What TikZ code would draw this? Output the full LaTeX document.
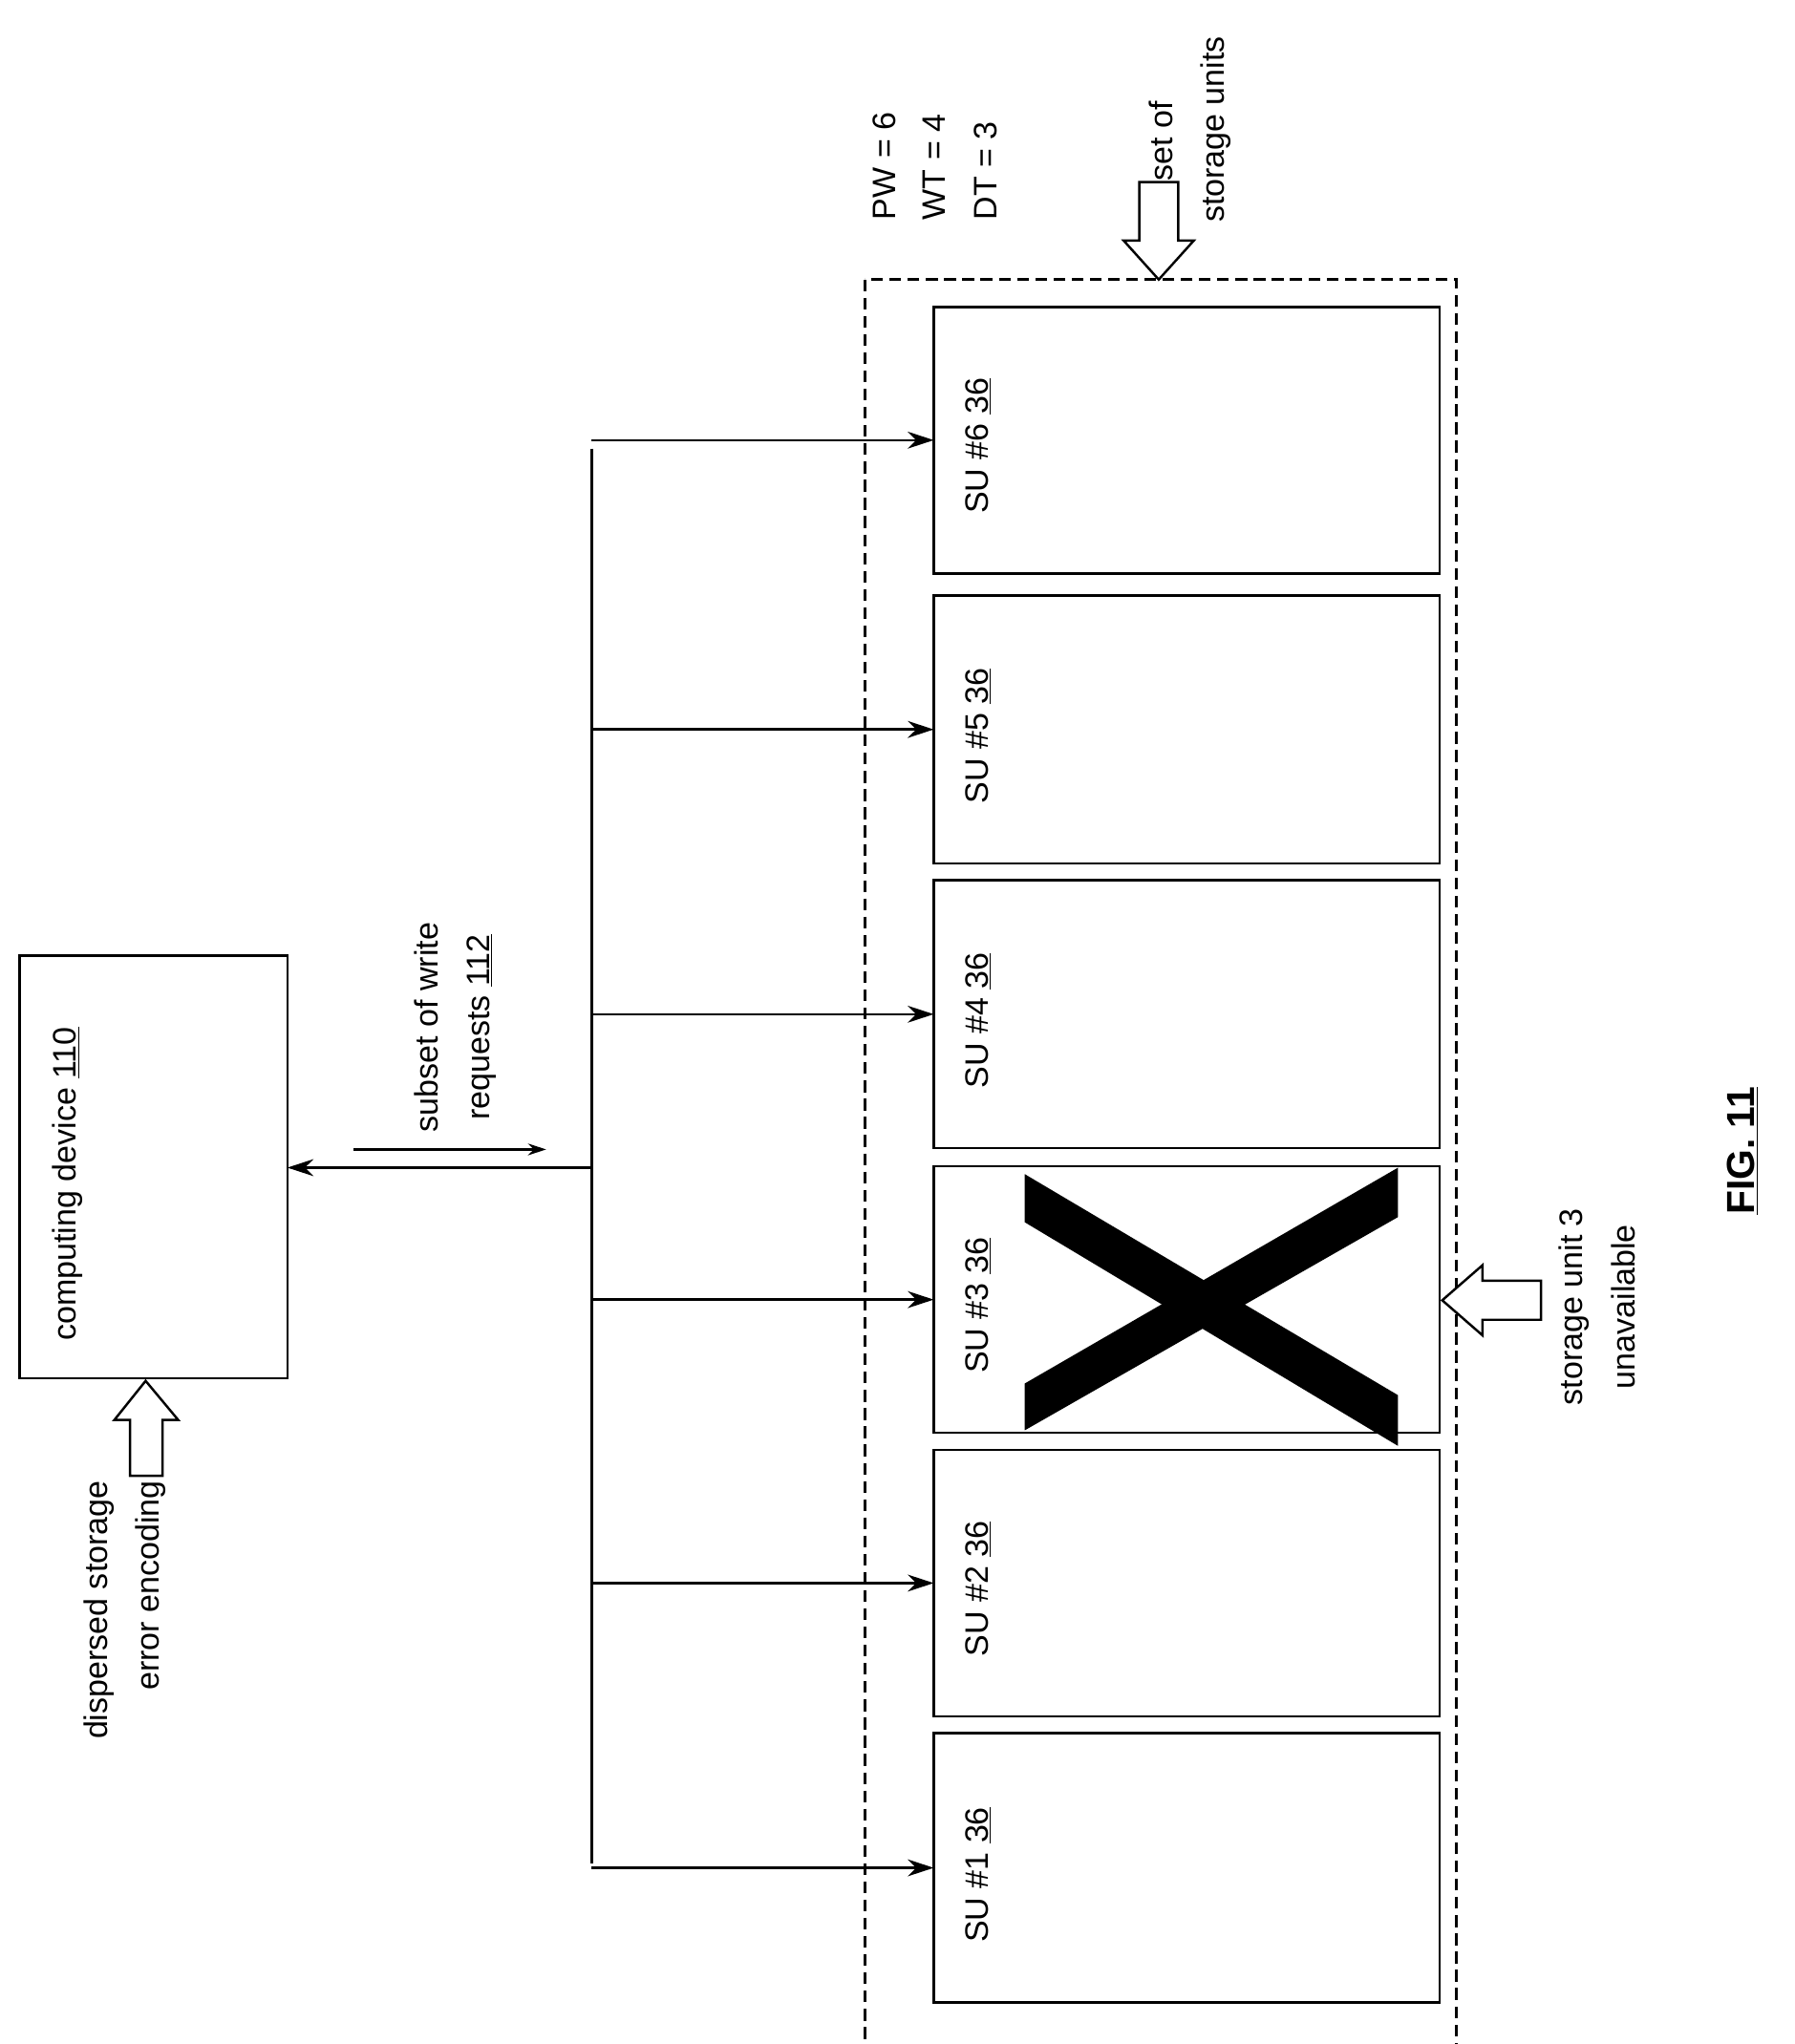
\documentclass[tikz,border=0pt]{standalone}
\usepackage{fontspec}
\setmainfont{Liberation Sans}
\usetikzlibrary{arrows.meta}
\begin{document}
\begin{tikzpicture}[x=1pt,y=-1pt,line width=1.8pt,
  every node/.style={font=\fontsize{25}{40}\selectfont,inner sep=0pt},
  rt/.style={rotate=90,anchor=west},
  box/.style={draw,fill=white},
  tip/.style={-{Stealth[length=20pt,width=13pt]}},
  blk/.style={draw,fill=white,line width=1.8pt,line join=miter}]
\useasboundingbox (0,0) rectangle (1380,1572);
% computing device
\draw[box] (15,735) rectangle (221,1060);
\node[rt] (cd) at (52,1032) {computing device \underline{110}};
\coordinate (cdR) at (221,898);
% dispersed input arrow
\draw[blk] (100,1135) -- (100,1092) -- (88,1092) -- (112,1062) -- (137,1092) -- (125,1092) -- (125,1135) -- cycle;
\node[rotate=90,anchor=east,align=right] (dse) at (96,1138) {dispersed storage\\error encoding};
% bus
\coordinate (busT) at (455,345);
\coordinate (busB) at (455,1433);
\coordinate (busM) at (455,898);
\draw (busT) -- (busB);
\draw[tip] (busM) -- (cdR);
% label
\coordinate (la) at (272,884);
\coordinate (lb) at (420,884);
\draw[-{Stealth[length=14pt,width=9pt]}] (la) -- (lb);
\node[rotate=90,align=center] (swr) at (350,790) {subset of write\\requests \underline{112}};
% dashed set
\draw[dash pattern=on 9pt off 5pt] (665,215) rectangle (1120,1580);
% SU boxes
\foreach \i/\t/\b in {6/236/441,5/458/664,4/677/883,3/897/1102,2/1115/1320,1/1333/1540}{
  \draw[box] (718,\t) rectangle (1107,\b);
  \node[rt] (su\i) at (752,\b-45) {SU \#\i{} \underline{36}};
  \coordinate (in\i) at (718,{(\t+\b)/2});
  \draw[tip] (455,{(\t+\b)/2}) -- (in\i);
}
% X
\fill (788,903) -- (788,940) -- (1075,1112) -- (1075,1073) -- cycle;
\fill (1075,898) -- (1075,936) -- (788,1100) -- (788,1064) -- cycle;
% unavailable arrow
\draw[blk] (1185,985) -- (1140,985) -- (1140,973) -- (1109,1000) -- (1140,1027) -- (1140,1015) -- (1185,1015) -- cycle;
\node[rotate=90,align=center] (su3u) at (1228,1005) {storage unit 3\\unavailable};
% set of storage units arrow
\draw[blk] (876,140) -- (876,185) -- (864,185) -- (891,215) -- (918,185) -- (906,185) -- (906,140) -- cycle;
\node[rt] (so1) at (893,140) {set of};
\node[rt] (so2) at (935,172) {storage units};
% params
\node[rt] (pw) at (680,170) {PW = 6};
\node[rt] (wt) at (718,170) {WT = 4};
\node[rt] (dt) at (758,170) {DT = 3};
% fig
\node[rotate=90,font=\fontsize{30}{36}\selectfont\bfseries] (fig) at (1340,885) {\underline{FIG. 11}};
\end{tikzpicture}
\end{document}
